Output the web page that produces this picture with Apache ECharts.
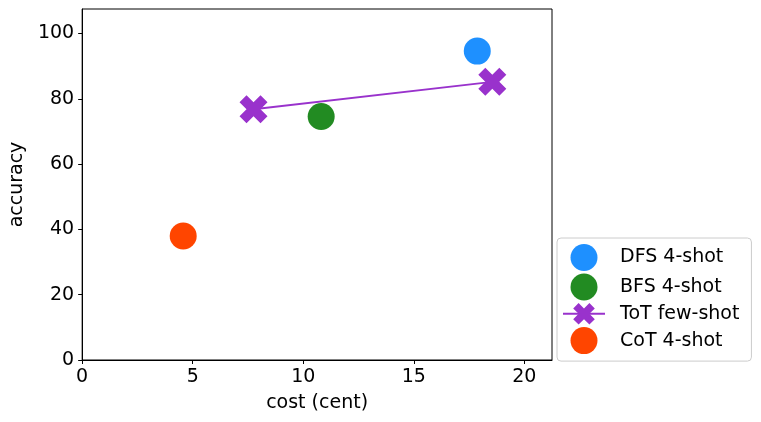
<!DOCTYPE html>
<html>
<head>
<meta charset="utf-8">
<script src="https://cdn.jsdelivr.net/npm/echarts@6/dist/echarts.min.js"></script>
<style>
  html, body { margin: 0; padding: 0; background: #fff; }
  #main { width: 761px; height: 422px; }
</style>
</head>
<body>
<div id="main"></div>
<script>
// values
const seriesNames = ['DFS 4-shot', 'BFS 4-shot', 'ToT few-shot', 'CoT 4-shot'];
const dfsCost = [17.87];
const dfsAcc = [94.6];
const bfsCost = [10.81];
const bfsAcc = [74.6];
const totCost = [7.75, 18.55];
const totAcc = [76.8, 85.2];
const cotCost = [4.57];
const cotAcc = [38.0];
const xTicks = [0, 5, 10, 15, 20];
const yTicks = [0, 20, 40, 60, 80, 100];

const font = 'DejaVu Sans';
const pairs = (xs, ys) => xs.map((x, i) => [x, ys[i]]);

// matplotlib style filled "X"
const xMarker = 'path://M0,2.5L2.5,0L5,2.5L7.5,0L10,2.5L7.5,5L10,7.5L7.5,10L5,7.5L2.5,10L0,7.5L2.5,5Z';

let myChart = echarts.init(document.getElementById('main'));
let option = {
    animation: false,
    grid: {
        left: 80, top: 9, right: 209, bottom: 62,
        show: true, borderColor: '#000', borderWidth: 1, backgroundColor: '#fff'
    },
    xAxis: {
        type: 'value', min: 0, max: 21.25,
        name: 'cost (cent)', nameLocation: 'middle', nameGap: 34,
        nameTextStyle: { fontFamily: font, fontSize: 19, color: '#000' },
        axisLine: { show: true, lineStyle: { color: '#000', width: 1 } },
        axisTick: { show: true, length: 4, lineStyle: { color: '#000' }, customValues: xTicks },
        axisLabel: { fontFamily: font, fontSize: 19, color: '#000', margin: 8, customValues: xTicks },
        splitLine: { show: false }
    },
    yAxis: {
        type: 'value', min: 0, max: 107.5,
        name: 'accuracy', nameLocation: 'middle', nameGap: 48,
        nameTextStyle: { fontFamily: font, fontSize: 19, color: '#000' },
        axisLine: { show: true, lineStyle: { color: '#000', width: 1 } },
        axisTick: { show: true, length: 4, lineStyle: { color: '#000' }, customValues: yTicks },
        axisLabel: { fontFamily: font, fontSize: 19, color: '#000', margin: 8, customValues: yTicks },
        splitLine: { show: false }
    },
    legend: {
        data: seriesNames,
        orient: 'vertical',
        left: 557, top: 238,
        padding: [6, 12, 7, 5],
        itemWidth: 42, itemHeight: 27, itemGap: 2.5,
        backgroundColor: 'rgba(255,255,255,0.8)',
        borderColor: '#cccccc', borderWidth: 1, borderRadius: 4,
        textStyle: { fontFamily: font, fontSize: 19, color: '#000', padding: [0, 0, 0, 10] }
    },
    series: [
        {
            name: seriesNames[0], type: 'scatter', symbol: 'circle', symbolSize: 27,
            itemStyle: { color: '#1E90FF', opacity: 1 },
            data: pairs(dfsCost, dfsAcc)
        },
        {
            name: seriesNames[1], type: 'scatter', symbol: 'circle', symbolSize: 27,
            itemStyle: { color: '#228B22', opacity: 1 },
            data: pairs(bfsCost, bfsAcc)
        },
        {
            name: seriesNames[2], type: 'line', symbol: xMarker, symbolSize: 28,
            showAllSymbol: true,
            lineStyle: { color: '#9932CC', width: 1.8 },
            itemStyle: { color: '#9932CC', borderWidth: 0 },
            data: pairs(totCost, totAcc)
        },
        {
            name: seriesNames[3], type: 'scatter', symbol: 'circle', symbolSize: 27,
            itemStyle: { color: '#FF4500', opacity: 1 },
            data: pairs(cotCost, cotAcc)
        }
    ]
};
myChart.setOption(option);
</script>
</body>
</html>
